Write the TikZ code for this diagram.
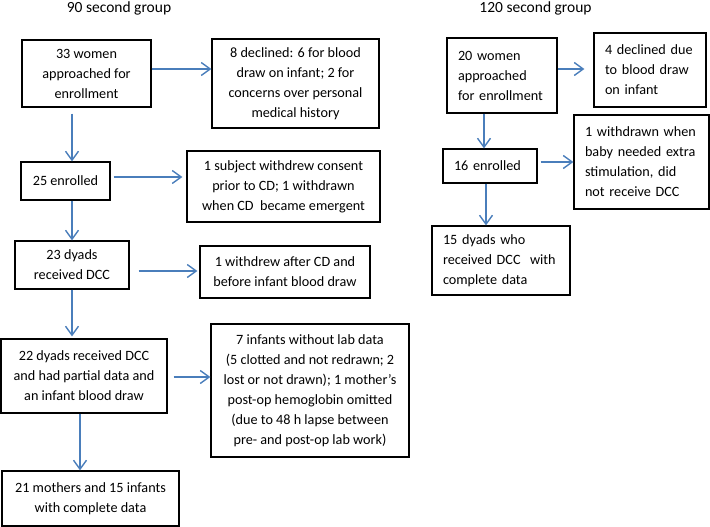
\documentclass[tikz,border=0pt]{standalone}
\usepackage{fontspec}
\setmainfont{Carlito}
\usetikzlibrary{arrows.meta}
\definecolor{flowblue}{RGB}{74,126,187}

\begin{document}
\begin{tikzpicture}[x=1pt, y=-1pt,
  box/.style={draw=black, line width=1.2pt, font=\fontsize{14.2}{20}\selectfont, inner sep=4pt},
  cbox/.style={box, align=center},
  lbox/.style={box, align=left, inner xsep=11pt},
  flow/.style={draw=flowblue, line width=1.4pt, -{Straight Barb[length=9pt, width=13pt]}},
  grouptitle/.style={font=\fontsize{15.5}{18}\selectfont, anchor=base}]
  \useasboundingbox (0,0) rectangle (710,527);

  \node[grouptitle] (t90) at (119,13) {90 second group};
  \node[grouptitle] (t120) at (535.5,13) {120 second group};

  % 90 second group
  \node[cbox, minimum width=129pt, minimum height=67pt] (A) at (86.5,73.5) {33 women\\approached for\\enrollment};
  \node[cbox, minimum width=167pt, minimum height=89pt] (A2) at (295.5,83.5) {8 declined: 6 for blood\\draw on infant; 2 for\\concerns over personal\\medical history};
  \node[cbox, minimum width=89pt, minimum height=38pt] (B) at (65.5,181) {25 enrolled};
  \node[cbox, minimum width=193pt, minimum height=71pt] (B2) at (283.5,186.5) {1 subject withdrew consent\\prior to CD; 1 withdrawn\\when CD\ \ became emergent};
  \node[cbox, minimum width=114pt, minimum height=48pt] (C) at (72,265) {23 dyads\\received DCC};
  \node[cbox, minimum width=170pt, minimum height=52pt] (C2) at (285,272) {1 withdrew after CD and\\before infant blood draw};
  \node[cbox, minimum width=166pt, minimum height=74pt] (D) at (84,376) {22 dyads received DCC\\and had partial data and\\an infant blood draw};
  \node[cbox, minimum width=198pt, minimum height=133pt] (D2) at (310,390.5) {7 infants without lab data\\(5 clotted and not redrawn; 2\\lost or not drawn); 1 mother’s\\post-op hemoglobin omitted\\(due to 48 h lapse between\\pre- and post-op lab work)};
  \node[cbox, minimum width=177pt, minimum height=55pt] (E) at (90.5,498.5) {21 mothers and 15 infants\\with complete data};

  % 120 second group
  \node[lbox, text width=88pt, minimum height=75pt] (F) at (502,75.5) {20 women\\approached\\for enrollment};
  \node[lbox, text width=90pt, minimum height=74pt] (F2) at (650,70) {4 declined due\\to blood draw\\on infant};
  \node[lbox, text width=72pt, minimum height=34pt] (G) at (490,166) {16 enrolled};
  \node[lbox, text width=113pt, minimum height=94pt] (G2) at (641.5,162) {1 withdrawn when\\baby needed extra\\stimulation, did\\not receive DCC};
  \node[lbox, text width=116pt, minimum height=69pt] (H) at (501,260.5) {15 dyads who\\received DCC\ \ with\\complete data};

  \draw[flow] ([yshift=4.5pt]A.east) -- ([yshift=14.5pt]A2.west);
  \draw[flow] ([xshift=-14.5pt,yshift=-6pt]A.south) -- ([xshift=6.5pt]B.north);
  \draw[flow] ([xshift=3pt,yshift=4pt]B.east) -- ([xshift=-4pt,yshift=9.5pt]B2.west);
  \draw[flow] ([xshift=6.5pt]B.south) -- (C.north);
  \draw[flow] ([xshift=9pt,yshift=-6pt]C.east) -- ([xshift=-2pt,yshift=1pt]C2.west);
  \draw[flow] (C.south) -- ([xshift=-12pt,yshift=2pt]D.north);
  \draw[flow] ([xshift=6pt,yshift=-1pt]D.east) -- ([yshift=13.5pt]D2.west);
  \draw[flow] ([xshift=-4pt]D.south) -- ([xshift=-10.5pt]E.north);

  \draw[flow] ([yshift=6.5pt]F.east) -- ([xshift=-9pt,yshift=1pt]F2.west);
  \draw[flow] ([xshift=-18pt]F.south) -- ([xshift=-6pt]G.north);
  \draw[flow] ([xshift=3pt,yshift=4pt]G.east) -- (G2.west);
  \draw[flow] ([xshift=-4pt]G.south) -- ([xshift=-15pt]H.north);
\end{tikzpicture}
\end{document}
